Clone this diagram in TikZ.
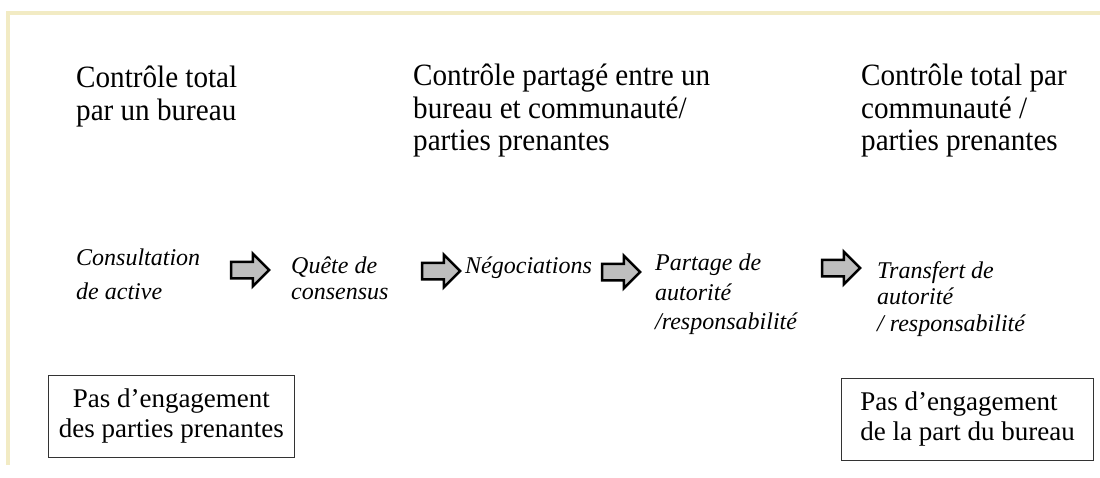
\documentclass[tikz,border=0pt]{standalone}
\usepackage{fontspec}
\setmainfont{Liberation Serif}
\newfontfamily\headfont[FakeStretch=0.94]{Liberation Serif}
\usetikzlibrary{shapes.arrows,positioning}
\definecolor{frameyellow}{HTML}{F2EBC4}
\definecolor{arrowgray}{HTML}{BEBEBE}
\tikzset{
    heading/.style={align=left, inner sep=0pt, anchor=north west, font=\headfont\fontsize{31}{32.5}\selectfont},
    stage/.style={align=left, inner sep=0pt, anchor=north west, font=\fontsize{24}{#1}\selectfont\itshape},
    stage/.default=30,
    flow/.style={single arrow, draw=black, fill=arrowgray, line width=2.5pt, inner sep=7pt, minimum height=38pt, single arrow head extend=8pt},
    notebox/.style={draw=black!80, line width=0.8pt, anchor=north west, minimum width=246pt, minimum height=82pt, font=\fontsize{27}{30}\selectfont}
}
\begin{document}
\begin{tikzpicture}[x=1pt,y=-1pt]
\useasboundingbox (0,0) rectangle (1100,477);
% frame
\draw[frameyellow, line width=4pt] (8,465) -- (8,13) -- (1100,13);
% levels of control
\node[heading](ctrlbureau) at (76,66){Contrôle total\\par un bureau};
\node[heading](ctrlpartage) at (413,64){Contrôle partagé entre un\\bureau et communauté/\\parties prenantes};
\node[heading](ctrlcommun) at (861,64){Contrôle total par\\communauté /\\parties prenantes};
% stages
\node[stage=34](consult) at (76,249){Consultation\\de active};
\node[stage=26](quete) at (291,257){Quête de\\consensus};
\node[stage](nego) at (465,257){Négociations};
\node[stage=29.5](partage) at (655,254){Partage de\\autorité\\/responsabilité};
\node[stage=26.5](transfert) at (877,261){Transfert de\\autorité\\/ responsabilité};
\node[flow](f1) at (246,270){};
\node[flow](f2) at (437,271){};
\node[flow](f3) at (617,272){};
\node[flow](f4) at (837,268){};
% no engagement
\node[notebox, align=center](pasparties) at (48,375){Pas d'engagement\\des parties prenantes};
\node[notebox, align=left, inner xsep=19pt](pasbureau) at (841,378){Pas d'engagement\\de la part du bureau};
\end{tikzpicture}
\end{document}
